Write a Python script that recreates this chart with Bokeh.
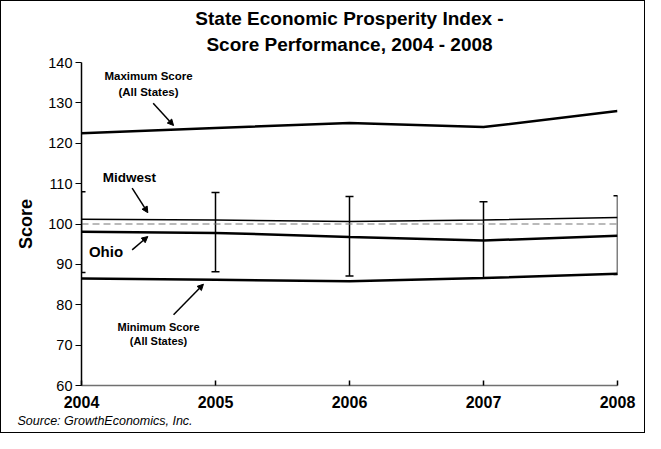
from bokeh.plotting import figure
from bokeh.models import Label, Arrow, NormalHead, Range1d, FixedTicker, Whisker, ColumnDataSource, Title
from bokeh.embed import file_html
from bokeh.resources import INLINE

years = [2004, 2005, 2006, 2007, 2008]
max_score = [122.5, 123.8, 125.0, 124.0, 128.0]
midwest = [101.2, 101.0, 100.6, 101.0, 101.6]
us_avg = [100.0, 100.0, 100.0, 100.0, 100.0]
ohio = [98.1, 97.8, 96.8, 95.9, 97.1]
min_score = [86.5, 86.2, 85.8, 86.6, 87.7]
mw_high = [108.0, 107.8, 106.8, 105.5, 107.0]
mw_low = [88.0, 88.2, 87.1, 86.6, 87.5]
y_ticks = [60, 70, 80, 90, 100, 110, 120, 130, 140]

FONT = "Liberation Sans"

p = figure(width=645, height=433, output_backend="svg", toolbar_location=None,
           x_range=Range1d(2004, 2008), y_range=Range1d(60, 140),
           min_border_left=80, min_border_right=29, min_border_top=61, min_border_bottom=49)
p.styles = {"border": "1.5px solid black", "box-sizing": "border-box"}
p.grid.visible = False
p.outline_line_color = None

p.add_layout(Title(text="Score Performance, 2004 - 2008", align="center", text_font=FONT,
                   text_font_size="19px", text_font_style="bold", text_color="black",
                   standoff=11, vertical_align="top"), "above")
p.add_layout(Title(text="State Economic Prosperity Index -", align="center", text_font=FONT,
                   text_font_size="19px", text_font_style="bold", text_color="black",
                   standoff=0), "above")
p.add_layout(Title(text="Source: GrowthEconomics, Inc.", align="left", text_font=FONT,
                   text_font_size="12.5px", text_font_style="italic", text_color="black",
                   offset=-64, standoff=2), "below")

p.xaxis.ticker = FixedTicker(ticks=years)
p.xaxis.major_tick_in = 5
p.xaxis.major_tick_out = 0
p.xaxis.minor_tick_line_color = None
p.xaxis.axis_line_color = "#707070"
p.xaxis.axis_line_width = 1.5
p.xaxis.major_tick_line_width = 1.5
p.xaxis.major_label_text_font = FONT
p.xaxis.major_label_text_font_style = "bold"
p.xaxis.major_label_text_font_size = "16px"
p.xaxis.major_label_text_color = "black"
p.xaxis.major_label_standoff = 10

p.yaxis.ticker = FixedTicker(ticks=y_ticks)
p.yaxis.major_tick_in = 0
p.yaxis.major_tick_out = 6
p.yaxis.minor_tick_line_color = None
p.yaxis.axis_line_width = 1.5
p.yaxis.major_tick_line_width = 1.2
p.yaxis.major_label_text_font = FONT
p.yaxis.major_label_text_font_size = "14.5px"
p.yaxis.major_label_text_color = "black"
p.yaxis.major_label_standoff = 3
p.yaxis.axis_label = "Score"
p.yaxis.axis_label_text_font = FONT
p.yaxis.axis_label_text_font_style = "bold"
p.yaxis.axis_label_text_font_size = "18px"
p.yaxis.axis_label_text_color = "black"
p.yaxis.axis_label_standoff = 9

p.line(years, max_score, line_color="black", line_width=2.5)
p.line(years, us_avg, line_color="#777777", line_width=1.2, line_dash="7 4")
p.line(years, midwest, line_color="black", line_width=1.5)
p.line(years, ohio, line_color="black", line_width=2.5)
p.line(years, min_score, line_color="black", line_width=2.5)

src = ColumnDataSource(dict(x=years, lo=mw_low, hi=mw_high))
w = Whisker(base="x", lower="lo", upper="hi", source=src, line_color="black", line_width=1.5)
w.upper_head.size = 8
w.lower_head.size = 8
w.upper_head.line_width = 1.5
w.lower_head.line_width = 1.5
p.add_layout(w)

def lab(x, y, t, size="10px", style="bold", align="center"):
    p.add_layout(Label(x=x, y=y, text=t, text_font=FONT, text_font_size=size,
                       text_font_style=style, text_align=align, text_baseline="middle",
                       text_color="black"))

def arr(x0, y0, x1, y1):
    p.add_layout(Arrow(end=NormalHead(size=6, fill_color="black", line_color="black"),
                       x_start=x0, y_start=y0, x_end=x1, y_end=y1,
                       line_color="black", line_width=1.5))

lab(2004.50, 136.6, "Maximum Score", size="11.5px")
lab(2004.50, 132.8, "(All States)", size="11.5px")
arr(2004.535, 129.9, 2004.687, 124.4)

lab(2004.358, 111.4, "Midwest", size="13.5px")
arr(2004.378, 108.9, 2004.495, 102.8)

lab(2004.183, 93.1, "Ohio", size="15px")
arr(2004.378, 93.6, 2004.495, 96.9)

lab(2004.575, 74.6, "Minimum Score", size="11px")
lab(2004.575, 70.9, "(All States)", size="11px")
arr(2004.687, 77.5, 2004.91, 85.1)

open("out.html", "w").write(file_html(p, INLINE))
